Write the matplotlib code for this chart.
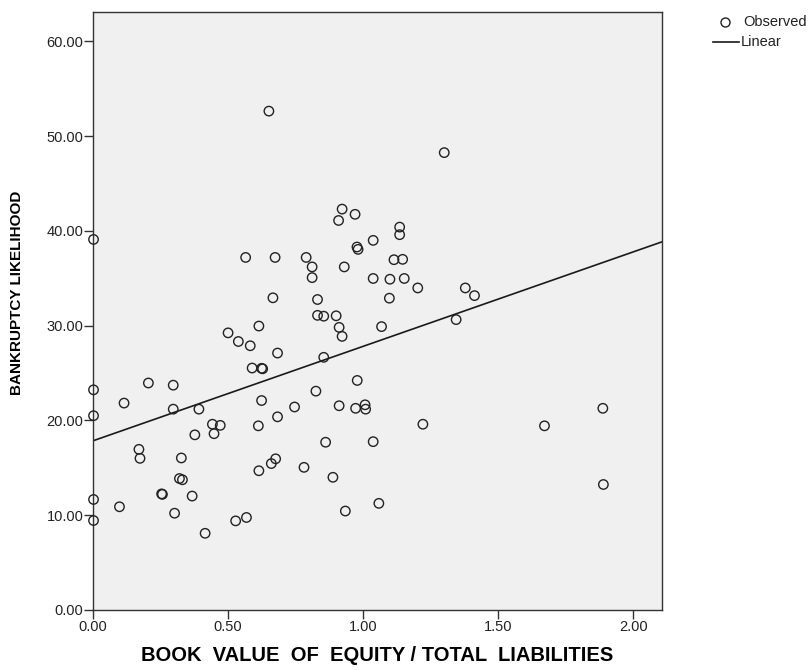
import matplotlib
matplotlib.use("Agg")
import matplotlib.pyplot as plt
from matplotlib.lines import Line2D
import numpy as np

plt.rcParams['font.family'] = ['Liberation Sans', 'DejaVu Sans']

# book value of equity / total liabilities
equity_ratio = [
    0.651, 1.300, 0.922, 0.909, 0.970, 1.135, 1.135, 0.002, 1.037, 0.977,
    0.981, 0.565, 0.674, 0.789, 1.114, 1.146, 0.811, 0.930, 0.811, 1.037,
    1.099, 1.152, 1.202, 1.378, 1.412, 0.666, 0.831, 1.097, 0.831, 0.854,
    0.900, 1.344, 0.614, 0.911, 1.068, 0.500, 0.538, 0.582, 0.922, 0.683,
    0.854, 0.589, 0.624, 0.628, 0.978, 0.205, 0.297, 0.002, 0.825, 0.624,
    0.115, 0.746, 0.911, 0.297, 0.392, 1.007, 1.009, 0.972, 1.887, 0.002,
    0.683, 1.221, 0.442, 0.471, 0.612, 1.671, 0.448, 0.377, 0.861, 1.037,
    0.170, 0.174, 0.327, 0.676, 0.660, 0.614, 0.781, 0.888, 0.320, 0.331,
    1.889, 0.254, 0.257, 0.367, 0.002, 1.058, 0.098, 0.302, 0.934, 0.002,
    0.528, 0.568, 0.415,
]
# bankruptcy likelihood
likelihood = [
    52.64, 48.26, 42.30, 41.10, 41.75, 40.40, 39.60, 39.10, 39.00, 38.30,
    38.05, 37.20, 37.20, 37.20, 36.96, 37.00, 36.20, 36.20, 35.07, 34.98,
    34.90, 34.98, 33.98, 33.98, 33.17, 32.94, 32.76, 32.90, 31.09, 31.00,
    31.04, 30.64, 29.96, 29.82, 29.90, 29.24, 28.33, 27.88, 28.87, 27.11,
    26.66, 25.53, 25.50, 25.45, 24.22, 23.95, 23.72, 23.23, 23.09, 22.10,
    21.83, 21.42, 21.55, 21.19, 21.19, 21.65, 21.19, 21.28, 21.28, 20.50,
    20.38, 19.60, 19.60, 19.48, 19.43, 19.43, 18.60, 18.48, 17.70, 17.76,
    16.95, 16.00, 16.04, 15.95, 15.45, 14.69, 15.05, 14.00, 13.87, 13.74,
    13.24, 12.25, 12.20, 12.02, 11.66, 11.25, 10.89, 10.21, 10.44, 9.44,
    9.40, 9.76, 8.09,
]
# linear fit as drawn in the chart
fit_intercept = 17.85
fit_slope = 9.97

x_ticks = [0.0, 0.5, 1.0, 1.5, 2.0]
y_ticks = [0, 10, 20, 30, 40, 50, 60]

fig = plt.figure(figsize=(8.1, 6.7), dpi=100, facecolor='white')
ax = fig.add_axes([0.1148, 0.0896, 0.7025, 0.8925])
ax.set_facecolor('#f0f0f0')

ax.scatter(equity_ratio, likelihood, s=46, facecolors='none',
           edgecolors='#222222', linewidths=1.0, zorder=3, clip_on=False)

xmin, xmax = 0.0, 2.106
xs = np.array([xmin, xmax])
ax.plot(xs, fit_intercept + fit_slope * xs, color='#1a1a1a', lw=1.2, zorder=2)

ax.set_xlim(xmin, xmax)
ax.set_ylim(0, 63.1)
ax.set_xticks(x_ticks)
ax.set_yticks(y_ticks)
ax.set_xticklabels([f"{v:.2f}" for v in x_ticks], fontsize=10.5, color='#222222')
ax.set_yticklabels([f"{v:.2f}" for v in y_ticks], fontsize=10.5, color='#222222')
ax.tick_params(direction='out', length=6.5, width=1, color='#333333', pad=0.5)
for s in ax.spines.values():
    s.set_color('#333333')
    s.set_linewidth(1.0)

fig.text(0.466, 0.022, "BOOK  VALUE  OF  EQUITY / TOTAL  LIABILITIES",
         ha='center', va='center', fontsize=14.5, fontweight='bold')
fig.text(0.021, 0.563, "BANKRUPTCY LIKELIHOOD", rotation=90,
         ha='center', va='center', fontsize=11, fontweight='bold')

# legend, placed by hand in figure pixels
W, H = 810, 670
fig.add_artist(Line2D([725 / W], [1 - 22 / H], marker='o', ls='none',
                      markerfacecolor='none', markeredgecolor='#222222',
                      markersize=6.5, markeredgewidth=1.0,
                      transform=fig.transFigure))
fig.text(743 / W, 1 - 22 / H, "Observed", ha='left', va='center',
         fontsize=10.5, color='#222222')
fig.add_artist(Line2D([713 / W, 739 / W], [1 - 42 / H, 1 - 42 / H],
                      color='#1a1a1a', lw=1.2, transform=fig.transFigure))
fig.text(741 / W, 1 - 42 / H, "Linear", ha='left', va='center',
         fontsize=10.5, color='#222222')

fig.savefig("out.png", dpi=100, facecolor='white')
